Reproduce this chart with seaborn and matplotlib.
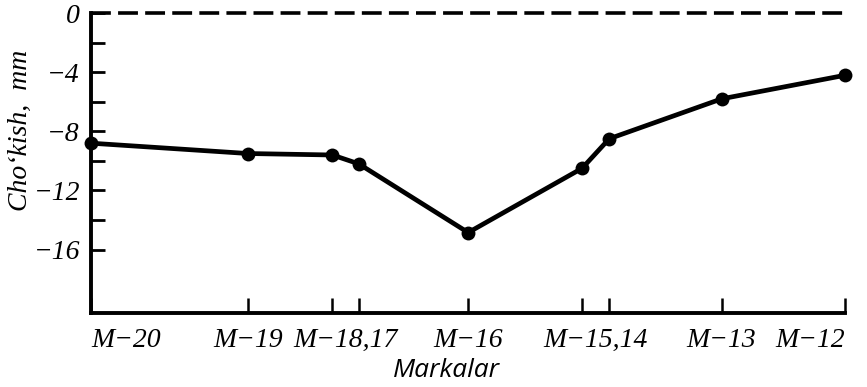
import matplotlib
matplotlib.use("Agg")
import matplotlib.pyplot as plt
import matplotlib.transforms as mtransforms
import numpy as np
import pandas as pd
import seaborn as sns

# Marks along the line (relative distance) and settlement values, mm
marks = ["M−20", "M−19", "M−18", "M−17", "M−16", "M−15", "M−14", "M−13", "M−12"]
distance = [0, 20.8, 32.0, 35.5, 50.0, 65.1, 68.7, 83.6, 100]
settlement = [-8.8, -9.5, -9.6, -10.2, -14.85, -10.5, -8.5, -5.8, -4.2]

# Labels under the axis (paired marks share one label)
label_names = ["M−20", "M−19", "M−18,17", "M−16", "M−15,14", "M−13", "M−12"]
label_pos = [0, 20.8, 33.75, 50.0, 66.9, 83.6, 100]

y_major = [0, -4, -8, -12, -16]
y_minor = [-2, -6, -10, -14]

sns.set_style("ticks")
plt.rcParams["font.family"] = ["Liberation Serif", "DejaVu Serif"]
plt.rcParams["font.style"] = "italic"
plt.rcParams["text.color"] = "black"
plt.rcParams["axes.labelcolor"] = "black"
plt.rcParams["xtick.color"] = "black"
plt.rcParams["ytick.color"] = "black"

df = pd.DataFrame({"distance": distance, "settlement": settlement, "mark": marks})

fig = plt.figure(figsize=(8.67, 3.87), dpi=100)
ax = fig.add_axes([0.105, 0.191, 0.87, 0.775])

sns.lineplot(data=df, x="distance", y="settlement", ax=ax, color="black",
             linewidth=3.4, marker="o", markersize=10, markeredgewidth=0,
             clip_on=False, zorder=5)

ax.axhline(0, color="black", linestyle=(0, (5.5, 2)), linewidth=2.6, clip_on=False)

ax.set_xlim(0, 100)
ax.set_ylim(-20.3, 0)

sns.despine(ax=ax, top=True, right=True)
for s in ["left", "bottom"]:
    ax.spines[s].set_linewidth(2.8)
    ax.spines[s].set_color("black")

ax.set_yticks(y_major)
ax.set_yticklabels([f"{v:d}".replace("-", "−") for v in y_major], fontsize=20)
ax.set_yticks(y_minor, minor=True)
ax.tick_params(axis="y", which="both", direction="in", length=10, width=2, pad=8)

# tick marks at every mark, labels placed as text below the axis
ax.set_xticks(distance)
ax.set_xticklabels([""] * len(distance))
ax.tick_params(axis="x", which="major", direction="in", length=11, width=1.8)

trans = mtransforms.blended_transform_factory(ax.transData, ax.transAxes)
for i, (name, pos) in enumerate(zip(label_names, label_pos)):
    ha = "center"
    if i == 0:
        ha = "left"
    elif i == len(label_names) - 1:
        ha = "right"
    ax.text(pos, -0.05, name, transform=trans, ha=ha, va="top", fontsize=20)

ax.set_xlabel("Markalar", fontsize=19, fontfamily="Open Sans", fontstyle="italic")
ax.xaxis.set_label_coords(0.471, -0.15)
ax.set_ylabel("Cho‘kish,  mm", fontsize=20)
ax.yaxis.set_label_coords(-0.077, 0.61)

fig.savefig("out.png", dpi=100)
